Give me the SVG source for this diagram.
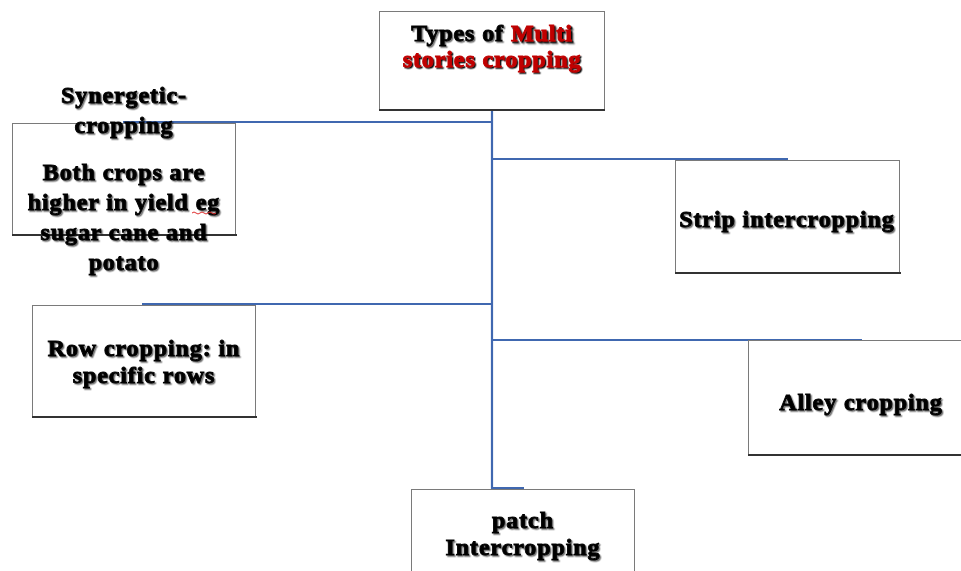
<svg xmlns="http://www.w3.org/2000/svg" width="961" height="571" viewBox="0 0 961 571">
<defs>
<style>
.box{fill:#fff;stroke:#7a7a7a;stroke-width:1}
.base{stroke:#333;stroke-width:2.2}
.t{font-family:"Liberation Serif","Times New Roman",serif;font-weight:bold;font-size:24px;letter-spacing:0.9px;text-anchor:middle;fill:#000;stroke:#000;stroke-width:0.9px;filter:url(#sh)}
.red{fill:#c00000;stroke:#c00000;filter:url(#shr)}
.c{fill:none;stroke:#4068b0;stroke-width:2.2}
</style>
<filter id="sh" x="-5%" y="-20%" width="110%" height="140%">
<feDropShadow dx="1.4" dy="1.4" stdDeviation="0.6" flood-color="#000" flood-opacity="0.55"/>
</filter>
<filter id="shr" x="-5%" y="-20%" width="110%" height="140%">
<feDropShadow dx="1.4" dy="1.4" stdDeviation="0.4" flood-color="#000" flood-opacity="0.95"/>
</filter>
</defs>
<rect width="961" height="571" fill="#fff"/>
<g id="connectors">
<path class="c" d="M492 110 V488 H524"/>
<path class="c" d="M123 122 H492"/>
<path class="c" d="M492 159 H788"/>
<path class="c" d="M142 304 H492"/>
<path class="c" d="M492 340 H862"/>
</g>
<g id="top">
<rect class="box" x="379.5" y="11.5" width="225" height="98"/>
<line class="base" x1="379" y1="110" x2="605" y2="110"/>
<text class="t" x="492" y="41">Types of <tspan class="red">Multi</tspan></text>
<text class="t red" x="492" y="67">stories cropping</text>
</g>
<g id="synergetic">
<rect class="box" x="12.5" y="123.5" width="223" height="111"/>
<line class="base" x1="12" y1="235" x2="237" y2="235"/>
<text class="t" x="124" y="103">Synergetic-</text>
<text class="t" x="124" y="133">cropping</text>
<text class="t" x="124" y="180">Both crops are</text>
<text class="t" x="124" y="210">higher in yield eg</text>
<text class="t" x="124" y="240">sugar cane and</text>
<text class="t" x="124" y="270">potato</text>
<path d="M192 213 q2 -2 4 0 t4 0 t4 0 t4 0 t4 0 t4 0" fill="none" stroke="#e03030" stroke-width="1"/>
</g>
<g id="strip">
<rect class="box" x="675.5" y="160.5" width="224" height="112"/>
<line class="base" x1="675" y1="273" x2="901" y2="273"/>
<text class="t" x="787" y="227">Strip intercropping</text>
</g>
<g id="row">
<rect class="box" x="32.5" y="305.5" width="223" height="111"/>
<line class="base" x1="32" y1="417" x2="257" y2="417"/>
<text class="t" x="144" y="356">Row cropping: in</text>
<text class="t" x="144" y="383">specific rows</text>
</g>
<g id="alley">
<rect class="box" x="748.5" y="340.5" width="226" height="114"/>
<line class="base" x1="748" y1="455" x2="975" y2="455"/>
<text class="t" x="861" y="410">Alley cropping</text>
</g>
<g id="patch">
<rect class="box" x="411.5" y="489.5" width="223" height="110"/>
<text class="t" x="523" y="528">patch</text>
<text class="t" x="523" y="555">Intercropping</text>
</g>
</svg>
